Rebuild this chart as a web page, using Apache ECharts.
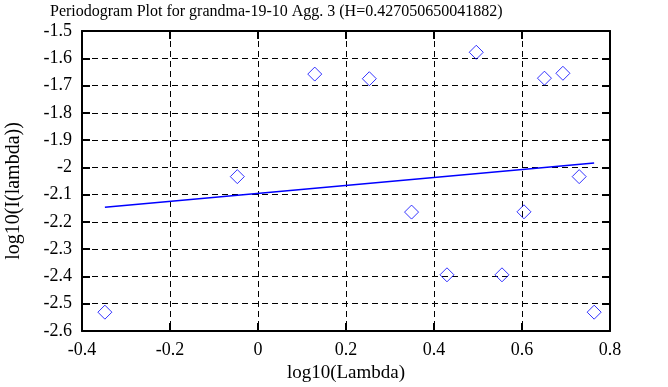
<!DOCTYPE html>
<html>
<head>
<meta charset="utf-8">
<script src="https://cdn.jsdelivr.net/npm/echarts@6/dist/echarts.min.js"></script>
<style>html,body{margin:0;padding:0;background:#fff;}#c{width:668px;height:387px;}</style>
</head>
<body>
<div id="c"></div>
<script>
const titleText = 'Periodogram Plot for grandma-19-10 Agg. 3 (H=0.427050650041882)';
const xName = 'log10(Lambda)';
const yName = 'log10(I(lambda))';
const logLambda = [-0.348, -0.047, 0.129, 0.253, 0.349, 0.4295, 0.496, 0.5545, 0.6045, 0.651, 0.693, 0.730, 0.764];
const logI = [-2.531, -2.034, -1.658, -1.675, -2.164, -2.394, -1.578, -2.394, -2.163, -1.673, -1.655, -2.034, -2.531];
const fitX = [-0.348, 0.764];
const fitY = [-2.146, -1.984];

const FONT = 'Liberation Serif';
const fmt = v => String(Math.round(v * 10) / 10);
const chart = echarts.init(document.getElementById('c'), null, {renderer: 'canvas'});
const axisLineStyle = {show: true, onZero: false, lineStyle: {color: '#000', width: 2}};
const tickStyle = {show: true, inside: true, length: 8, lineStyle: {color: '#000', width: 2}};
const gridStyle = {show: true, lineStyle: {color: '#000', width: 1, type: [6, 4]}};
chart.setOption({
  animation: false,
  backgroundColor: '#fff',
  title: {text: titleText, left: 45, top: -1, textStyle: {fontFamily: FONT, fontSize: 16, fontWeight: 'normal', color: '#000'}},
  grid: {left: 82, right: 58, top: 31, bottom: 56, containLabel: false, outerBoundsMode: 'none'},
  xAxis: [{
    type: 'value', min: -0.4, max: 0.8, interval: 0.2, position: 'bottom',
    name: xName, nameLocation: 'middle', nameGap: 32,
    nameTextStyle: {fontFamily: FONT, fontSize: 19, color: '#000'},
    axisLine: axisLineStyle, axisTick: tickStyle,
    axisLabel: {fontFamily: FONT, fontSize: 18, color: '#000', margin: 10, formatter: fmt},
    splitLine: gridStyle
  }, {
    type: 'value', min: -0.4, max: 0.8, interval: 0.2, position: 'top',
    axisLine: axisLineStyle, axisTick: tickStyle,
    axisLabel: {show: false}, splitLine: {show: false}
  }],
  yAxis: [{
    type: 'value', min: -2.6, max: -1.5, interval: 0.1, position: 'left',
    name: yName, nameLocation: 'middle', nameGap: 58, nameRotate: 90,
    nameTextStyle: {fontFamily: FONT, fontSize: 20, color: '#000', padding: [0, 20, 0, 0]},
    axisLine: axisLineStyle, axisTick: tickStyle,
    axisLabel: {fontFamily: FONT, fontSize: 18, color: '#000', margin: 10, formatter: fmt},
    splitLine: gridStyle
  }, {
    type: 'value', min: -2.6, max: -1.5, interval: 0.1, position: 'right',
    axisLine: axisLineStyle, axisTick: tickStyle,
    axisLabel: {show: false}, splitLine: {show: false}
  }],
  series: [{
    type: 'line',
    data: fitX.map((x, i) => [x, fitY[i]]),
    showSymbol: false, symbol: 'none',
    lineStyle: {color: '#0000ff', width: 1.5},
    z: 3
  }, {
    type: 'scatter',
    data: logLambda.map((x, i) => [x, logI[i]]),
    symbol: 'diamond', symbolSize: [14, 14],
    itemStyle: {color: 'rgba(0,0,0,0)', borderColor: '#0000ff', borderWidth: 1},
    z: 4
  }]
});
</script>
</body>
</html>
